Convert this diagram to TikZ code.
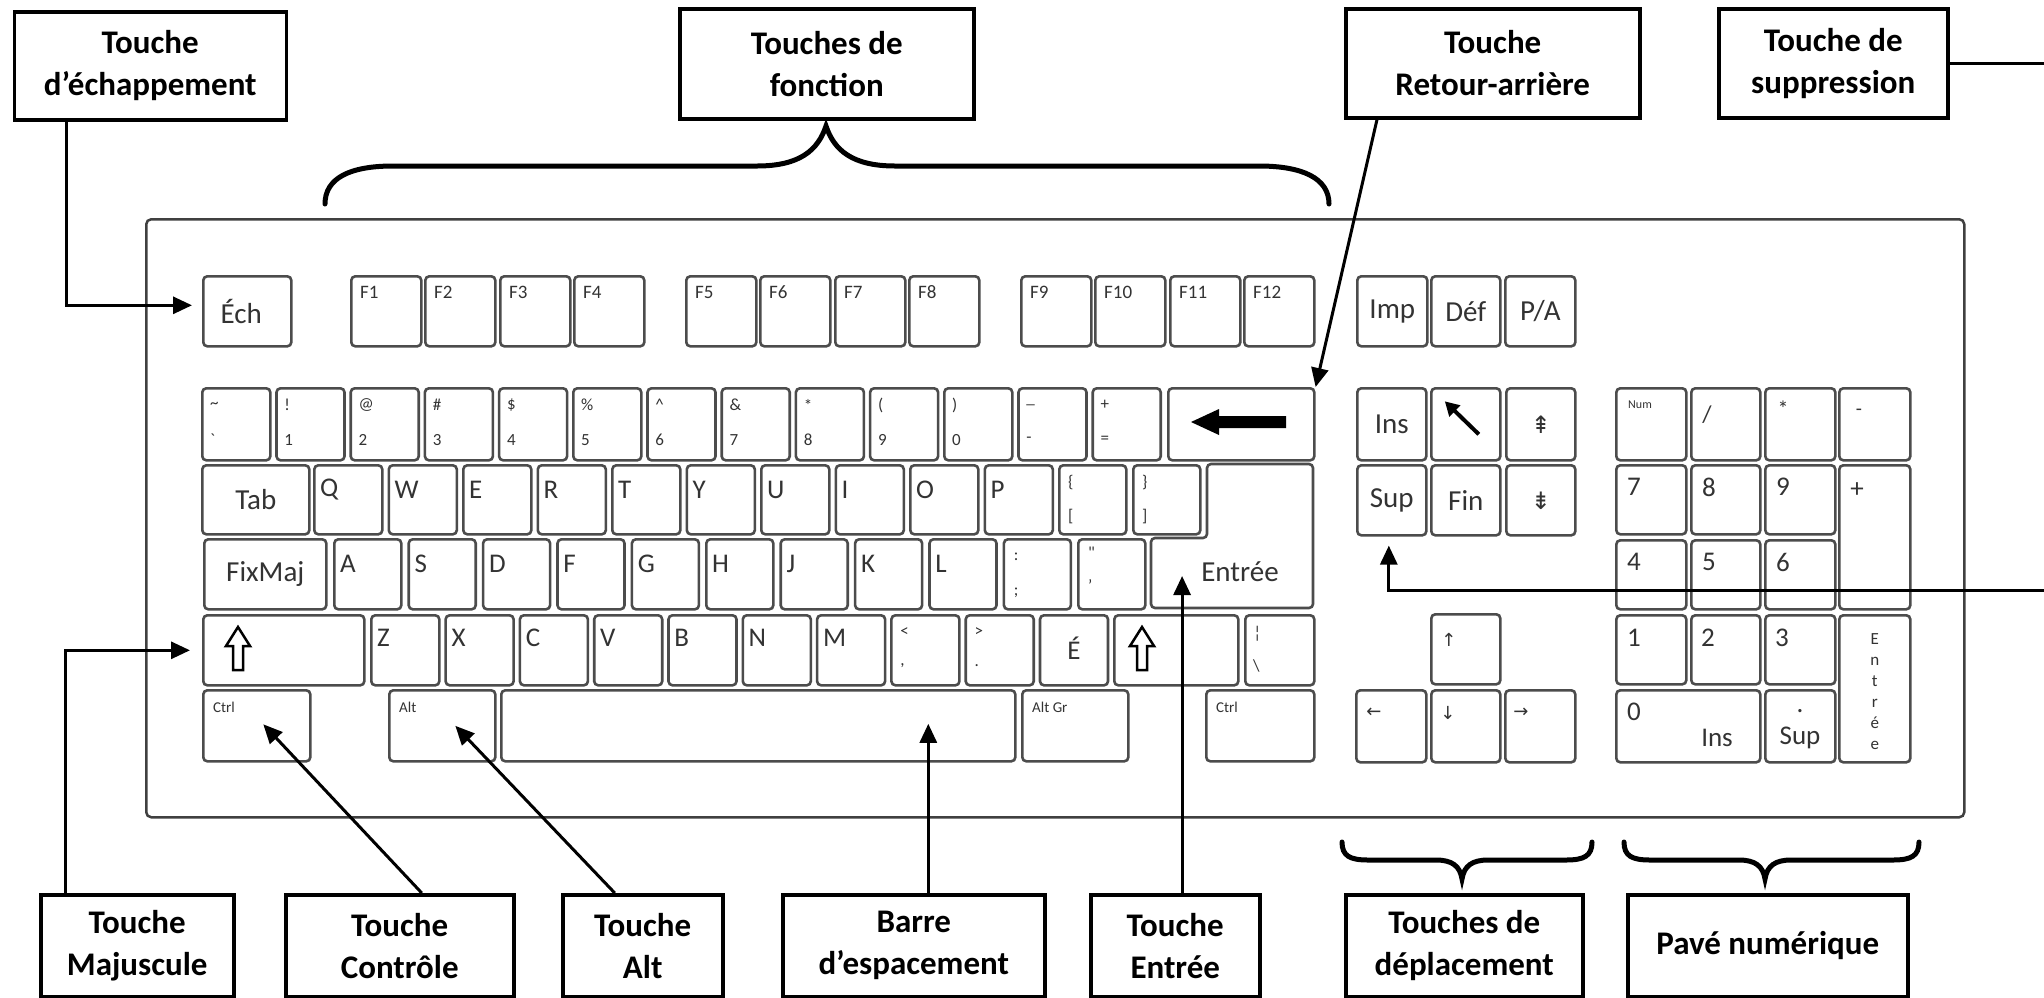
\documentclass[tikz,border=0pt]{standalone}
\usepackage{fontspec}
\setmainfont{Carlito}
\newfontfamily\symf{DejaVu Sans}
\usetikzlibrary{arrows.meta,calc}
\newcommand\fK{\fontsize{29}{31}\selectfont}
\newcommand\fL{\fontsize{27}{29}\selectfont}
\newcommand\fS{\fontsize{17}{19}\selectfont}
\newcommand\fT{\fontsize{15}{17}\selectfont}
\newcommand\fF{\fontsize{19}{21}\selectfont}
\newcommand\K[5]{\node[key,minimum width=#4pt,minimum height=#5pt,anchor=north west] (#1) at (#2,#3) {};}
\newcommand\KT[5]{\node[kt,font=#4,anchor=west] (#1-#5) at ($(#1.north west)+(#2,#3)$) {#5};}
\begin{document}
\begin{tikzpicture}[x=1pt,y=-1pt,
  key/.style={draw=black!70,line width=2.6pt,rounded corners=4pt,inner sep=0pt},
  kt/.style={inner sep=0pt,text=black!80},
  lbl/.style={draw,line width=3.5pt,align=center,inner sep=0pt,anchor=north west,
    font=\fontsize{33}{42}\selectfont\bfseries},
  conn/.style={line width=3pt,-{Triangle[length=19pt,width=17pt]}},
  brace/.style={line width=5pt,line cap=round},
  outl/.style={line width=2.5pt,line join=miter}]
\useasboundingbox (0,0) rectangle (2044,997);
\fill[white] (0,0) rectangle (2044,997);

% keyboard frame
\node[draw=black!75,line width=2.5pt,rounded corners=5pt,minimum width=1818pt,minimum height=598pt,anchor=north west,inner sep=0pt] (kbd) at (145,218) {};

% ---- top row
\K{kesc}{202}{275}{88}{70}
\node[kt,font=\fK] (kesc-t) at ($(kesc.center)+(-6,0)$) {Éch};
\foreach \i/\x in {1/350,2/424,3/499,4/573,5/685,6/759,7/834,8/908,9/1020,10/1094,11/1169,12/1243}{
  \K{f\i}{\x}{275}{70}{70}
  \node[kt,font=\fF,anchor=west] (f\i-t) at ($(f\i.north west)+(10,17)$) {F\i};
}
\K{imp}{1356}{275}{70}{70}\node[kt,font=\fK] (imp-t) at (imp) {Imp};
\K{def}{1430}{275}{69}{70}\node[kt,font=\fK] (def-t) at (def) {Déf};
\K{pa}{1504}{275}{70}{70}\node[kt,font=\fK] (pa-t) at (pa) {P/A};

% ---- number row
\foreach \i/\t/\b in {0/\textasciitilde/\textasciigrave,1/!/1,2/@/2,3/\#/3,4/\$/4,5/\%/5,6/\textasciicircum/6,7/\&/7,8/*/8,9/(/9,10/)/0,11/\_/-,12/+/=}{
  \pgfmathsetmacro\xx{201+74.2*\i}
  \K{n\i}{\xx}{387}{68}{72}
  \node[kt,font=\fS,anchor=west] (n\i-t) at ($(n\i.north west)+(9,18)$) {\t};
  \node[kt,font=\fS,anchor=west] (n\i-b) at ($(n\i.north west)+(9,53)$) {\b};
}
\K{bs}{1167}{387}{146}{72}
\fill (1191,422) -- (1219,409) -- (1219,416) -- (1286,416) -- (1286,428) -- (1219,428) -- (1219,435) -- cycle;

% ---- row 2
\K{tab}{201}{464}{107}{69}\node[kt,font=\fK] (tab-t) at (tab) {Tab};
\foreach \i/\t in {0/Q,1/W,2/E,3/R,4/T,5/Y,6/U,7/I,8/O,9/P}{
  \pgfmathsetmacro\xx{313+74.5*\i}
  \K{q\i}{\xx}{464}{68}{69}
  \node[kt,font=\fL,anchor=west] (q\i-t) at ($(q\i.north west)+(7,26)$) {\t};
}
\K{q10}{1058}{464}{67}{69}
\node[kt,font=\fS,anchor=west] (q10-t) at ($(q10.north west)+(10,19)$) {\{};
\node[kt,font=\fS,anchor=west] (q10-b) at ($(q10.north west)+(10,53)$) {[};
\K{q11}{1132}{464}{67}{69}
\node[kt,font=\fS,anchor=west] (q11-t) at ($(q11.north west)+(10,19)$) {\}};
\node[kt,font=\fS,anchor=west] (q11-b) at ($(q11.north west)+(10,53)$) {]};
% Entree key (L-shape)
\draw[key] (1207,464) -- (1313,464) -- (1313,608) -- (1151,608) -- (1151,538) -- (1207,538) -- cycle;
\node[kt,font=\fK] (ent-t) at (1240,572) {Entrée};

% ---- row 3
\K{caps}{203}{538}{122}{70}\node[kt,font=\fK] (caps-t) at (caps) {FixMaj};
\foreach \i/\t in {0/A,1/S,2/D,3/F,4/G,5/H,6/J,7/K,8/L}{
  \pgfmathsetmacro\xx{333+74.4*\i}
  \K{a\i}{\xx}{538}{67}{70}
  \node[kt,font=\fL,anchor=west] (a\i-t) at ($(a\i.north west)+(7,26)$) {\t};
}
\K{a9}{1002.6}{538}{67}{70}
\node[kt,font=\fS,anchor=west] (a9-t) at ($(a9.north west)+(11,19)$) {:};
\node[kt,font=\fS,anchor=west] (a9-b) at ($(a9.north west)+(11,55)$) {;};
\K{a10}{1077}{538}{67}{70}
\node[kt,font=\fS,anchor=west] (a10-t) at ($(a10.north west)+(11,15)$) {\textquotedbl};
\node[kt,font=\fS,anchor=west] (a10-b) at ($(a10.north west)+(11,47)$) {'};

% ---- row 4
\K{lsh}{202}{614}{161}{70}
\draw[outl] (238,627) -- (250,646) -- (243,646) -- (243,670) -- (233,670) -- (233,646) -- (226,646) -- cycle;
\foreach \i/\t in {0/Z,1/X,2/C,3/V,4/B,5/N,6/M}{
  \pgfmathsetmacro\xx{370+74.3*\i}
  \K{z\i}{\xx}{614}{68}{70}
  \node[kt,font=\fL,anchor=west] (z\i-t) at ($(z\i.north west)+(7,24)$) {\t};
}
\K{z7}{890.1}{614}{68}{70}
\node[kt,font=\fS,anchor=west] (z7-t) at ($(z7.north west)+(10,18)$) {<};
\node[kt,font=\fS,anchor=west] (z7-b) at ($(z7.north west)+(10,52)$) {,};
\K{z8}{964.4}{614}{68}{70}
\node[kt,font=\fS,anchor=west] (z8-t) at ($(z8.north west)+(10,18)$) {>};
\node[kt,font=\fS,anchor=west] (z8-b) at ($(z8.north west)+(10,52)$) {.};
\K{z9}{1038.7}{614}{68}{70}
\node[kt,font=\fL] (z9-t) at ($(z9.center)+(0,-2)$) {É};
\K{rsh}{1113}{614}{124}{70}
\draw[outl] (1142,627) -- (1154,646) -- (1147,646) -- (1147,670) -- (1137,670) -- (1137,646) -- (1130,646) -- cycle;
\K{bsl}{1244}{614}{69}{70}
\node[kt,font=\fS,anchor=west] (bsl-t) at ($(bsl.north west)+(9,20)$) {¦};
\node[kt,font=\fS,anchor=west] (bsl-b) at ($(bsl.north west)+(9,52)$) {\textbackslash};

% ---- row 5
\K{lctrl}{202}{689}{107}{71}\KT{lctrl}{11}{18}{\fT}{Ctrl}
\K{lalt}{388}{689}{106}{71}\KT{lalt}{11}{18}{\fT}{Alt}
\K{space}{500}{689}{514}{71}
\K{altgr}{1021}{689}{106}{71}\KT{altgr}{11}{18}{\fT}{Alt Gr}
\K{rctrl}{1205}{689}{108}{71}\KT{rctrl}{11}{18}{\fT}{Ctrl}

% ---- navigation block
\K{ins}{1356}{387}{69}{72}\node[kt,font=\fK] (ins-t) at (ins) {Ins};
\K{home}{1430}{387}{69}{72}
\draw[line width=4pt,-{Triangle[length=14pt,width=15pt]}] ($(home.center)+(13,10)$) -- ($(home.center)+(-21,-23)$);
\K{pgup}{1505}{387}{69}{72}\node[kt,font=\symf\fontsize{24}{26}\selectfont] (pgup-t) at (pgup) {⇞};
\K{sup}{1356}{464}{69}{70}\node[kt,font=\fK] (sup-t) at (sup) {Sup};
\K{fin}{1430}{464}{69}{70}\node[kt,font=\fK] (fin-t) at (fin) {Fin};
\K{pgdn}{1505}{464}{69}{70}\node[kt,font=\symf\fontsize{24}{26}\selectfont] (pgdn-t) at (pgdn) {⇟};
\K{up}{1430}{613}{69}{70}\node[kt,font=\symf\fontsize{18}{20}\selectfont] (up-t) at ($(up.north west)+(19,27)$) {↑};
\K{left}{1355}{689}{70}{72}\node[kt,font=\symf\fontsize{18}{20}\selectfont] (left-t) at ($(left.north west)+(19,24)$) {←};
\K{down}{1430}{689}{69}{72}\node[kt,font=\symf\fontsize{18}{20}\selectfont] (down-t) at ($(down.north west)+(18,24)$) {↓};
\K{right}{1504}{689}{70}{72}\node[kt,font=\symf\fontsize{18}{20}\selectfont] (right-t) at ($(right.north west)+(17,24)$) {→};

% ---- numeric keypad
\K{num}{1615}{387}{70}{72}\node[kt,font=\fontsize{12}{13}\selectfont] (num-t) at ($(num.north west)+(25,18)$) {Num};
\K{div}{1690}{387}{69}{72}\node[kt,font=\fontsize{24}{26}\selectfont] (div-t) at ($(div.north west)+(17,28)$) {/};
\K{mul}{1764}{387}{70}{72}\node[kt,font=\fontsize{22}{24}\selectfont] (mul-t) at ($(mul.north west)+(19,22)$) {*};
\K{minus}{1838}{387}{71}{72}\node[kt,font=\fontsize{20}{22}\selectfont] (minus-t) at ($(minus.north west)+(21,25)$) {-};
\K{p7}{1615}{464}{70}{69}\node[kt,font=\fL] (p7-t) at ($(p7.north west)+(19,23)$) {7};
\K{p8}{1690}{464}{69}{69}\node[kt,font=\fL] (p8-t) at ($(p8.north west)+(19,23)$) {8};
\K{p9}{1764}{464}{70}{69}\node[kt,font=\fL] (p9-t) at ($(p9.north west)+(19,23)$) {9};
\K{plus}{1838}{464}{71}{144}\node[kt,font=\fL] (plus-t) at ($(plus.north west)+(19,26)$) {+};
\K{p4}{1615}{539}{70}{69}\node[kt,font=\fL] (p4-t) at ($(p4.north west)+(19,23)$) {4};
\K{p5}{1690}{539}{69}{69}\node[kt,font=\fL] (p5-t) at ($(p5.north west)+(19,23)$) {5};
\K{p6}{1764}{539}{70}{69}\node[kt,font=\fL] (p6-t) at ($(p6.north west)+(19,23)$) {6};
\K{p1}{1615}{614}{70}{69}\node[kt,font=\fL] (p1-t) at ($(p1.north west)+(19,24)$) {1};
\K{p2}{1690}{614}{69}{69}\node[kt,font=\fL] (p2-t) at ($(p2.north west)+(18,24)$) {2};
\K{p3}{1764}{614}{70}{69}\node[kt,font=\fL] (p3-t) at ($(p3.north west)+(18,24)$) {3};
\K{pent}{1838}{614}{71}{147}
\node[kt,font=\fontsize{17}{21}\selectfont,align=center] (pent-t) at ($(pent.center)+(0,3)$) {E\\n\\t\\r\\é\\e};
\K{p0}{1615}{689}{144}{72}
\node[kt,font=\fL] (p0-t) at ($(p0.north west)+(19,23)$) {0};
\node[kt,font=\fL] (p0-b) at ($(p0.north west)+(102,49)$) {Ins};
\K{pdot}{1764}{689}{70}{72}
\node[kt,font=\fL] (pdot-t) at ($(pdot.north west)+(36,22)$) {.};
\node[kt,font=\fL] (pdot-b) at ($(pdot.north west)+(36,49)$) {Sup};

% ---- label boxes
\node[lbl,minimum width=272pt,minimum height=108pt] (Lesc) at (12.5,10) {Touche\\d’échappement};
\node[lbl,minimum width=294pt,minimum height=110pt] (Lfn) at (678,7) {Touches de\\fonction};
\node[lbl,minimum width=294pt,minimum height=109pt] (Lbs) at (1344,7) {Touche\\Retour-arrière};
\node[lbl,minimum width=229pt,minimum height=109pt] (Ldel) at (1717,7) {Touche de\\suppression};
\node[lbl,minimum width=193pt,minimum height=102pt] (Lsh) at (39,893) {Touche\\Majuscule};
\node[lbl,minimum width=228pt,minimum height=102pt] (Lctrl) at (284,893) {Touche\\Contrôle};
\node[lbl,minimum width=160pt,minimum height=102pt] (Lalt) at (561,893) {Touche\\Alt};
\node[lbl,minimum width=262pt,minimum height=102pt] (Lsp) at (781,893) {Barre\\d’espacement};
\node[lbl,minimum width=169pt,minimum height=102pt] (Lent) at (1089,893) {Touche\\Entrée};
\node[lbl,minimum width=237pt,minimum height=102pt] (Lnav) at (1344,893) {Touches de\\déplacement};
\node[lbl,minimum width=280pt,minimum height=102pt] (Lnum) at (1626,893) {Pavé numérique};

% ---- braces
\draw[brace] (325,204) .. controls (325,178) and (350,166) .. (393,166) -- (757,166)
  .. controls (800,166) and (818,150) .. (826,126) .. controls (834,150) and (852,166) .. (895,166)
  -- (1259,166) .. controls (1302,166) and (1329,178) .. (1329,204);
\draw[brace] (1342,842) .. controls (1342,856) and (1350,860) .. (1368,860) -- (1436,860)
  .. controls (1452,860) and (1460,866) .. (1462,879) .. controls (1464,866) and (1472,860) .. (1488,860)
  -- (1566,860) .. controls (1584,860) and (1592,856) .. (1592,842);
\draw[brace] (1624,842) .. controls (1624,856) and (1632,860) .. (1650,860) -- (1739,860)
  .. controls (1755,860) and (1763,866) .. (1765,879) .. controls (1767,866) and (1775,860) .. (1791,860)
  -- (1893,860) .. controls (1911,860) and (1919,856) .. (1919,842);

% ---- connectors
\coordinate (escx) at (66,0);
\coordinate (shx) at (65,0);
\coordinate (redge) at (2044,0);
\coordinate (supin) at (2044,590);
\coordinate (stip) at ($(space.center)+(170,-2)$);
\coordinate (etip) at ($(ent-t.west)+(-19,4)$);
\draw[conn] (escx |- Lesc.south) |- ($(kesc.west)+(-10,-6)$);
\draw[conn] ($(Lbs.south west)+(33,0)$) -- (bs.north east);
\draw[line width=3pt] (Ldel.east) -- (Ldel.east -| redge);
\draw[conn] (supin) -| ($(sup.south)+(-3,9)$);
\draw[conn] (shx |- Lsh.north) |- ($(lsh.west)+(-12,0)$);
\draw[conn] ($(Lctrl.north)+(22,0)$) -- ($(lctrl.center)+(6.5,-1.5)$);
\draw[conn] ($(Lalt.north)+(-28,0)$) -- ($(lalt.center)+(13,0)$);
\draw[conn] (stip |- Lsp.north) -- (stip);
\draw[conn] (etip |- Lent.north) -- (etip);
\end{tikzpicture}
\end{document}
